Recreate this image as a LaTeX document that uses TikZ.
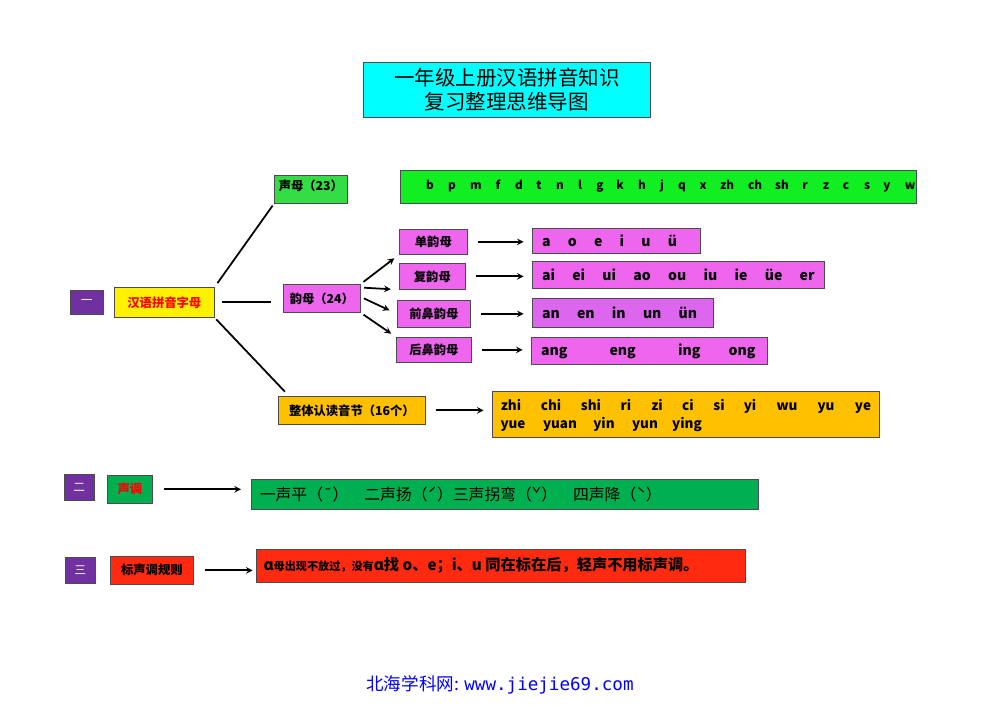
\documentclass[tikz,border=0pt]{standalone}
\usepackage{fontspec}
\setmainfont{Noto Sans CJK SC}
\setmonofont{DejaVu Sans Mono}
\begin{document}
\begin{tikzpicture}[x=0.03cm,y=-0.03cm,
 bx/.style={draw=black!70,line width=0.6pt,anchor=north west,inner sep=0pt},
 lb/.style={font=\bfseries\fontsize{10.5}{12}\selectfont},
 pin/.style={font=\bfseries\fontsize{12}{13}\selectfont},
 ar/.style={-stealth,line width=1.5pt},
 ln/.style={line width=1.5pt}]
\useasboundingbox[fill=white] (0,0) rectangle (1000,707);
\newcommand\bxx[6]{\node[bx,fill=#5,minimum width=#3*0.03cm,minimum height=#4*0.03cm] (#6) at (#1,#2) {};}
\definecolor{cy}{HTML}{00FFFF}
\definecolor{g1}{HTML}{33DD44}
\definecolor{g2}{HTML}{11EE22}
\definecolor{vio}{HTML}{EE66EE}
\definecolor{vio2}{HTML}{DD66EE}
\definecolor{pur}{HTML}{7030A0}
\definecolor{org}{HTML}{FFC000}
\definecolor{gr}{HTML}{00B050}
\definecolor{rd}{HTML}{FF2A10}
% title
\bxx{363}{62}{287}{55}{cy}{title}
\node[font=\fontsize{17.5}{20}\selectfont,align=center] at (title.center) {一年级上册汉语拼音知识\\复习整理思维导图};
% boxes
\bxx{274}{175}{73}{28}{g1}{sm}
\node[lb] at ([yshift=3pt]sm.center) {声母（23）};
\bxx{400}{170}{516}{33}{g2}{smb}
\foreach \t/\x in {b/430,p/452,m/476,f/498,d/519,t/539,n/560,l/580,g/600,k/620,h/642,j/662,q/682,x/703,zh/727,ch/755,sh/782,r/805,z/826,c/846,s/867,y/887,w/910}
 \node[anchor=base,font=\bfseries\fontsize{10}{11}\selectfont] at (\x,190) {\t};
\bxx{399}{229}{68}{25}{vio}{d1}\node[lb] at (d1.center) {单韵母};
\bxx{399}{263}{66}{26}{vio}{d2}\node[lb] at (d2.center) {复韵母};
\bxx{397}{300}{73}{27}{vio}{d3}\node[lb] at (d3.center) {前鼻韵母};
\bxx{396}{337}{75}{25}{vio}{d4}\node[lb] at (d4.center) {后鼻韵母};
\bxx{532}{228}{168}{25}{vio}{r1}\node[pin,anchor=west] at ([xshift=5pt]r1.west) {a\quad\ o\quad\ e\quad\ i\quad\ u\quad\ ü};
\bxx{532}{261}{292}{27}{vio}{r2}\node[pin,anchor=west] at ([xshift=5pt]r2.west) {ai\quad\ ei\quad\ ui\quad\ ao\quad\ ou\quad\ iu\quad\ ie\quad\ üe\quad\ er};
\bxx{532}{298}{181}{29}{vio2}{r3}\node[pin,anchor=west] at ([xshift=5pt]r3.west) {an\quad\ en\quad\ in\quad\ un\quad\ ün};
\bxx{531}{337}{236}{27}{vio}{r4}\node[pin,anchor=west] at ([xshift=5pt]r4.west) {ang\qquad\quad eng\qquad\quad ing\qquad ong};
\bxx{283}{284}{77}{28}{vio}{ym}\node[lb] at (ym.center) {韵母（24）};
\bxx{114}{287}{100}{30}{yellow}{hy}\node[lb,text=red] at (hy.center) {汉语拼音字母};
\bxx{70}{290}{33}{24}{pur}{n1}\node[text=white,font=\fontsize{10}{11}\selectfont] at (n1.center) {一};
\bxx{278}{396}{147}{28}{org}{zt}\node[lb] at (zt.center) {整体认读音节（16个）};
\bxx{492}{391}{387}{46}{org}{ztb}
\foreach \t/\x in {zhi/511,chi/551,shi/591,ri/626,zi/657,ci/688,si/719,yi/750,wu/787,yu/826,ye/863}
 \node[anchor=base,font=\bfseries\fontsize{11.5}{12}\selectfont] at (\x,410) {\t};
\foreach \t/\x in {yue/513,yuan/560,yin/604,yun/645,ying/687}
 \node[anchor=base,font=\bfseries\fontsize{11.5}{12}\selectfont] at (\x,428) {\t};
\bxx{64}{474}{30}{26}{pur}{n2}\node[text=white,font=\fontsize{10}{11}\selectfont] at (n2.center) {二};
\bxx{107}{475}{45}{28}{gr}{sd}\node[lb,text=red] at (sd.center) {声调};
\bxx{251}{479}{507}{30}{gr}{sdb}\node[anchor=west,font=\fontsize{13.5}{15}\selectfont] at ([xshift=4pt]sdb.west) {一声平（¯）\quad 二声扬（ˊ）三声拐弯（ˇ）\quad 四声降（ˋ）};
\bxx{65}{557}{30}{26}{pur}{n3}\node[text=white,font=\fontsize{10}{11}\selectfont] at (n3.center) {三};
\bxx{110}{556}{83}{28}{rd}{gz}\node[lb] at (gz.center) {标声调规则};
\bxx{256}{549}{489}{33}{rd}{gzb}\node[anchor=west,font=\bfseries\fontsize{13}{14}\selectfont] at ([xshift=3pt]gzb.west) {ɑ{\fontsize{9.5}{10}\selectfont 母出现不放过，没有}ɑ找 o、e；i、u 同在标在后，轻声不用标声调。};
% connectors
\draw[ln,shorten <=4pt,shorten >=2pt] (hy.north east) -- (sm.south west);
\draw[ln,shorten <=6pt,shorten >=10pt] (hy.east) -- (ym.west|-hy.east);
\draw[ln,shorten <=2pt,shorten >=5pt] (hy.south east) -- ([xshift=0.33cm]zt.north west);
\draw[ar,shorten <=3pt,shorten >=5pt] (ym.north east) -- (d1.south west);
\draw[ar,shorten <=3pt,shorten >=7pt] ([yshift=-3pt]ym.north east) -- (d2.south west);
\draw[ar,shorten <=3pt,shorten >=7pt] ([yshift=-11pt]ym.north east) -- (d3.west);
\draw[ar,shorten <=3pt,shorten >=5pt] (ym.south east) -- (d4.north west);
\foreach \a/\b in {d1/r1,d2/r2,d3/r3,d4/r4,zt/ztb}
 \draw[ar,shorten <=0.3cm,shorten >=0.25cm] (\a.east) -- (\a.east-|\b.west);
\draw[ar,shorten <=0.35cm,shorten >=0.3cm] (sd.east) -- (sd.east-|sdb.west);
\draw[ar,shorten <=0.35cm,shorten >=0.1cm] (gz.east) -- (gz.east-|gzb.west);
\node[text=blue,font=\fontsize{15}{16}\selectfont] (ft) at (500,685) {北海学科网: \texttt{www.jiejie69.com}};
\end{tikzpicture}
\end{document}
